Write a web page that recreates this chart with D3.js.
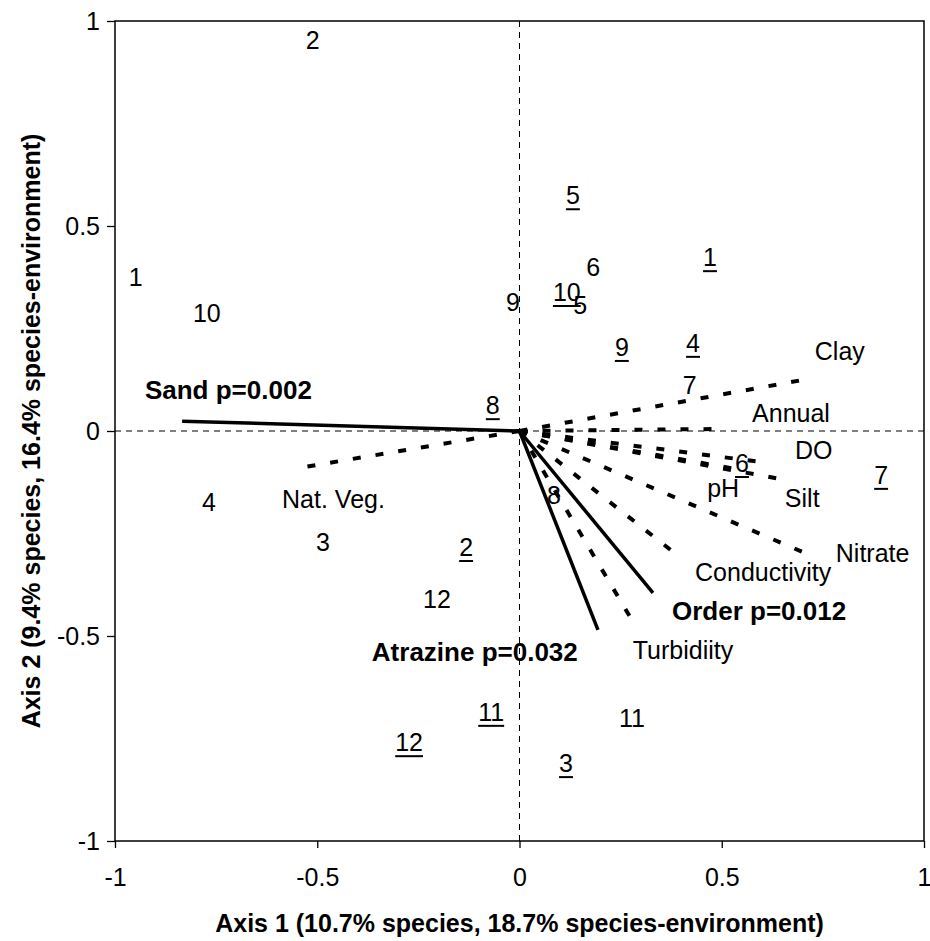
<!DOCTYPE html>
<html>
<head>
<meta charset="utf-8">
<script src="https://cdn.jsdelivr.net/npm/d3@7"></script>
<style>
  body { margin: 0; background: #fff; }
  svg text { font-family: "Liberation Sans", Arial, sans-serif; fill: #000; }
</style>
</head>
<body>
<div id="chart"></div>
<script>
// CCA biplot : sites (two years, second one underlined) + environmental vectors

const width = 930;
const height = 941;

// sites, first year (plain labels)
const siteLabels = ["1", "2", "3", "4", "5", "6", "7", "8", "9", "10", "11", "12"];
const siteX = [-0.949, -0.511, -0.486, -0.768, 0.150, 0.182, 0.421, 0.085, -0.016, -0.773, 0.278, -0.204];
const siteY = [0.376, 0.954, -0.271, -0.173, 0.307, 0.400, 0.112, -0.156, 0.315, 0.288, -0.700, -0.410];

// sites, second year (underlined labels)
const siteLabels2 = ["1", "2", "3", "4", "5", "6", "7", "8", "9", "10", "11", "12"];
const siteX2 = [0.471, -0.132, 0.115, 0.429, 0.132, 0.550, 0.894, -0.066, 0.253, 0.117, -0.070, -0.273];
const siteY2 = [0.424, -0.283, -0.810, 0.215, 0.575, -0.078, -0.107, 0.063, 0.205, 0.339, -0.685, -0.759];

// significant variables (solid, bold labels)
const sigNames = ["Sand p=0.002", "Atrazine p=0.032", "Order p=0.012"];
const sigX = [-0.834, 0.194, 0.330];
const sigY = [0.024, -0.485, -0.395];
const sigLabelX = [-0.926, -0.365, 0.377];
const sigLabelY = [0.078, -0.561, -0.461];

// other variables (dashed)
const envNames = ["Nat. Veg.", "Clay", "Annual", "DO", "pH", "Silt", "Nitrate", "Conductivity", "Turbidiity"];
const envX = [-0.545, 0.725, 0.501, 0.600, 0.538, 0.661, 0.728, 0.389, 0.281];
const envY = [-0.090, 0.129, 0.005, -0.076, -0.093, -0.120, -0.307, -0.302, -0.466];
const envLabelX = [-0.587, 0.730, 0.575, 0.681, 0.464, 0.656, 0.782, 0.434, 0.280];
const envLabelY = [-0.188, 0.173, 0.022, -0.068, -0.161, -0.185, -0.320, -0.366, -0.556];

const ticks = [-1, -0.5, 0, 0.5, 1];
const xTitle = "Axis 1 (10.7% species, 18.7% species-environment)";
const yTitle = "Axis 2 (9.4% species, 16.4% species-environment)";

const margin = { top: 21, right: 6, bottom: 100, left: 115 };

const svg = d3
  .select("#chart")
  .append("svg")
  .attr("width", width)
  .attr("height", height);

const x = d3.scaleLinear().domain([-1, 1]).range([margin.left, width - margin.right]);
const y = d3.scaleLinear().domain([-1, 1]).range([height - margin.bottom, margin.top]);

// axes
const xAxis = d3.axisBottom(x).tickValues(ticks).tickSizeInner(7).tickSizeOuter(0)
  .tickPadding(20).tickFormat(d => String(d));
const yAxis = d3.axisLeft(y).tickValues(ticks).tickSizeInner(8).tickSizeOuter(0)
  .tickPadding(7).tickFormat(d => String(d));

svg.append("g")
  .attr("transform", `translate(0,${y(-1)})`)
  .call(xAxis)
  .call(g => g.select(".domain").remove())
  .call(g => g.selectAll("line").attr("stroke", "#000").attr("stroke-width", 1.3))
  .call(g => g.selectAll("text").style("font-size", "25px").attr("font-family", null));

svg.append("g")
  .attr("transform", `translate(${x(-1)},0)`)
  .call(yAxis)
  .call(g => g.select(".domain").remove())
  .call(g => g.selectAll("line").attr("stroke", "#000").attr("stroke-width", 1.3))
  .call(g => g.selectAll("text").style("font-size", "25px").attr("font-family", null));

// plot frame
svg.append("rect")
  .attr("x", x(-1))
  .attr("y", y(1))
  .attr("width", x(1) - x(-1))
  .attr("height", y(-1) - y(1))
  .attr("fill", "none")
  .attr("stroke", "#000")
  .attr("stroke-width", 1.5);

// zero lines
svg.append("line")
  .attr("x1", x(-1)).attr("x2", x(1))
  .attr("y1", y(0)).attr("y2", y(0))
  .attr("stroke", "#000").attr("stroke-width", 1)
  .attr("stroke-dasharray", "6,5");
svg.append("line")
  .attr("x1", x(0)).attr("x2", x(0))
  .attr("y1", y(1)).attr("y2", y(-1))
  .attr("stroke", "#000").attr("stroke-width", 1)
  .attr("stroke-dasharray", "6,5");

// axis titles
svg.append("text")
  .attr("x", x(0))
  .attr("y", 932)
  .attr("text-anchor", "middle")
  .style("font-size", "25px")
  .style("font-weight", "bold")
  .text(xTitle);

svg.append("text")
  .attr("transform", `translate(40,${y(0)}) rotate(-90)`)
  .attr("text-anchor", "middle")
  .style("font-size", "25px")
  .style("font-weight", "bold")
  .text(yTitle);

// dashed vectors
const envData = envNames.map((n, i) => ({ name: n, x: envX[i], y: envY[i], lx: envLabelX[i], ly: envLabelY[i] }));
const sigData = sigNames.map((n, i) => ({ name: n, x: sigX[i], y: sigY[i], lx: sigLabelX[i], ly: sigLabelY[i] }));

svg.append("g")
  .selectAll("line")
  .data(envData)
  .join("line")
  .attr("x1", x(0)).attr("y1", y(0))
  .attr("x2", d => x(d.x)).attr("y2", d => y(d.y))
  .attr("stroke", "#000")
  .attr("stroke-width", 4)
  .attr("stroke-dasharray", "8,15");

svg.append("g")
  .selectAll("line")
  .data(sigData)
  .join("line")
  .attr("x1", x(0)).attr("y1", y(0))
  .attr("x2", d => x(d.x)).attr("y2", d => y(d.y))
  .attr("stroke", "#000")
  .attr("stroke-width", 3.5);

svg.append("g")
  .selectAll("text")
  .data(envData)
  .join("text")
  .attr("x", d => x(d.lx))
  .attr("y", d => y(d.ly))
  .style("font-size", "25px")
  .text(d => d.name);

svg.append("g")
  .selectAll("text")
  .data(sigData)
  .join("text")
  .attr("x", d => x(d.lx))
  .attr("y", d => y(d.ly))
  .style("font-size", "26px")
  .style("font-weight", "bold")
  .text(d => d.name);

// site labels
const sites1 = siteLabels.map((l, i) => ({ label: l, x: siteX[i], y: siteY[i] }));
const sites2 = siteLabels2.map((l, i) => ({ label: l, x: siteX2[i], y: siteY2[i] }));

svg.append("g")
  .selectAll("text")
  .data(sites1)
  .join("text")
  .attr("x", d => x(d.x))
  .attr("y", d => y(d.y))
  .attr("dy", "0.36em")
  .attr("text-anchor", "middle")
  .style("font-size", "25px")
  .text(d => d.label);

const g2 = svg.append("g")
  .selectAll("g")
  .data(sites2)
  .join("g")
  .attr("transform", d => `translate(${x(d.x)},${y(d.y)})`);

g2.append("text")
  .attr("dy", "0.36em")
  .attr("text-anchor", "middle")
  .style("font-size", "25px")
  .text(d => d.label);

// underline = width of the label
g2.each(function () {
  const g = d3.select(this);
  const w = g.select("text").node().getComputedTextLength();
  g.append("line")
    .attr("x1", -w / 2).attr("x2", w / 2)
    .attr("y1", 14).attr("y2", 14)
    .attr("stroke", "#000")
    .attr("stroke-width", 2);
});
</script>
</body>
</html>
